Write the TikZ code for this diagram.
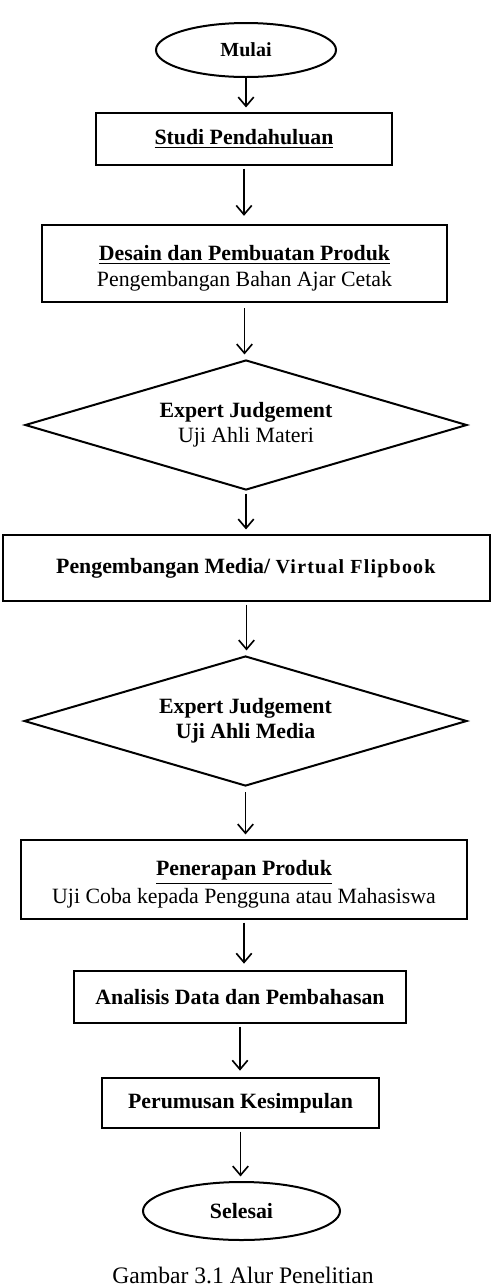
\documentclass[tikz,border=0pt]{standalone}
\usepackage{fontspec}
\setmainfont{Liberation Serif}
\usetikzlibrary{shapes.geometric,arrows.meta}

\tikzset{
    box/.style={draw, line width=1.1pt, align=center, inner sep=0pt},
    terminal/.style={draw, ellipse, line width=1.1pt, inner sep=0pt, font=\fontsize{12}{14}\selectfont\bfseries},
    decision/.style={draw, diamond, line width=1.1pt, align=center, inner sep=0pt, aspect=3.4},
    flow/.style={line width=0.9pt, -{Straight Barb[length=5pt,width=8.5pt]}, shorten >=2.5pt, shorten <=1.5pt}
}

\begin{document}
\begin{tikzpicture}[x=0.55pt, y=-0.55pt, font=\fontsize{12}{14}\selectfont]
        \useasboundingbox (0,0) rectangle (492,1288);

        \node[terminal, minimum width=99pt, minimum height=29.7pt, font=\fontsize{11}{13}\selectfont\bfseries] (mulai) at (246,50) {Mulai};
        \node[box, minimum width=162.8pt, minimum height=28.6pt] (studi) at (244,139) {\textbf{\underline{Studi Pendahuluan}}};
        \node[box, minimum width=222.75pt, minimum height=42.35pt] (desain) at (244.5,263.5) {\rule{0pt}{13.5pt}\textbf{\underline{Desain dan Pembuatan Produk}}\\Pengembangan Bahan Ajar Cetak};

        \node[decision, minimum width=243.1pt, minimum height=71.5pt] (materi) at (246,425) {\textbf{Expert Judgement}\\Uji Ahli Materi};

        \node[box, minimum width=267.85pt, minimum height=36.3pt] (media) at (246.5,568) {\textbf{Pengembangan Media/ {\fontsize{11}{13}\selectfont\addfontfeature{LetterSpace=6}Virtual Flipbook}}};

        \node[decision, minimum width=243.6pt, minimum height=71.5pt, font=\fontsize{12}{14}\selectfont\bfseries] (ahlimedia) at (245.5,721) {Expert Judgement\\Uji Ahli Media};

        \node[box, minimum width=245.3pt, minimum height=43.45pt] (penerapan) at (244,879.5) {\rule{0pt}{14pt}\textbf{\underline{Penerapan Produk}}\\[1.5pt]Uji Coba kepada Pengguna atau Mahasiswa};
        \node[box, minimum width=182.6pt, minimum height=28.6pt] (analisis) at (240,997) {\textbf{Analisis Data dan Pembahasan}};
        \node[box, minimum width=152.35pt, minimum height=27.5pt] (rumus) at (240.5,1103) {\textbf{Perumusan Kesimpulan}};
        \node[terminal, minimum width=108.35pt, minimum height=31.9pt] (selesai) at (241.5,1211) {Selesai};

        \node[font=\fontsize{13}{15}\selectfont] (judul) at (243,1275) {Gambar 3.1 Alur Penelitian};

        % alur
        \draw[flow, shorten <=0pt] (mulai.south) -- (mulai.south |- studi.north);
        \draw[flow, shorten >=4.5pt] (studi.south) -- (studi.south |- desain.north);
        \draw[flow, shorten <=3pt] (desain.south) -- (desain.south |- materi.north);
        \draw[flow] (materi.south) -- (materi.south |- media.north);
        \draw[flow] (media.south) -- (media.south |- ahlimedia.north);
        \draw[flow, shorten <=3pt] (ahlimedia.south) -- (ahlimedia.south |- penerapan.north);
        \draw[flow, shorten >=3.5pt] (penerapan.south) -- (penerapan.south |- analisis.north);
        \draw[flow, shorten >=3.5pt] (analisis.south) -- (analisis.south |- rumus.north);
        \draw[flow] (rumus.south) -- (rumus.south |- selesai.north);
\end{tikzpicture}
\end{document}
